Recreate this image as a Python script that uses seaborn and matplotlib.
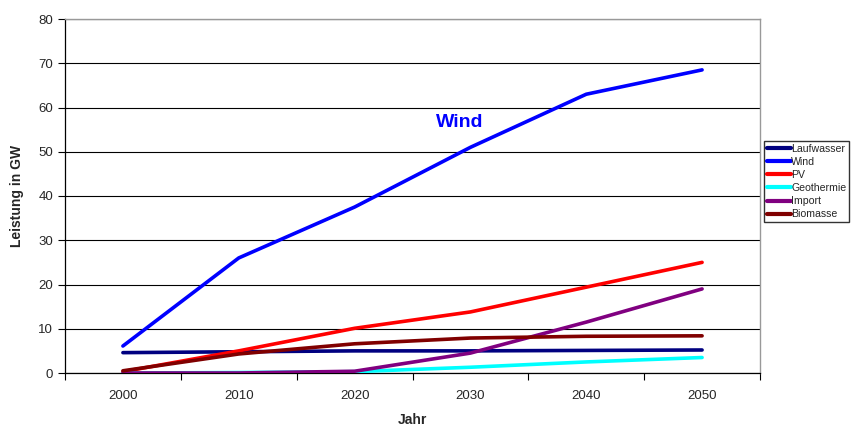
import matplotlib
matplotlib.use("Agg")
import matplotlib.pyplot as plt
import seaborn as sns
import pandas as pd
from matplotlib.lines import Line2D

years = ["2000", "2010", "2020", "2030", "2040", "2050"]
series_names = ["Laufwasser", "Wind", "PV", "Geothermie", "Import", "Biomasse"]
laufwasser = [4.6, 4.8, 5.0, 5.0, 5.1, 5.2]
wind = [6.1, 26.0, 37.5, 51.0, 63.0, 68.5]
pv = [0.3, 5.0, 10.1, 13.8, 19.4, 25.0]
geothermie = [0.0, 0.1, 0.3, 1.3, 2.5, 3.5]
imports = [0.0, 0.0, 0.4, 4.5, 11.5, 19.0]
biomasse = [0.5, 4.3, 6.6, 7.9, 8.3, 8.4]
colors = ["#000080", "#0000FF", "#FF0000", "#00FFFF", "#800080", "#800000"]

values = [laufwasser, wind, pv, geothermie, imports, biomasse]
rows = []
for name, vals in zip(series_names, values):
    for i, v in enumerate(vals):
        rows.append({"pos": i, "Jahr": years[i], "Leistung": v, "Serie": name})
df = pd.DataFrame(rows)

sns.set_theme(style="white")
plt.rcParams["font.family"] = ["Liberation Sans", "DejaVu Sans"]

fig = plt.figure(figsize=(8.51, 4.26), dpi=100)
ax = fig.add_axes([65 / 851, 53 / 426, 695 / 851, 354 / 426])

sns.lineplot(data=df, x="pos", y="Leistung", hue="Serie", hue_order=series_names,
             palette=dict(zip(series_names, colors)), linewidth=2.6, ax=ax,
             legend=False, zorder=3)

ax.set_xlim(-0.5, 5.5)
ax.set_ylim(0, 80)
ax.set_xticks(range(len(years)))
ax.set_xticklabels(years, fontsize=9.5)
ax.set_xticks([i - 0.5 for i in range(len(years) + 1)], minor=True)
ax.tick_params(axis="x", which="major", length=0, pad=12)
ax.tick_params(axis="x", which="minor", length=5, width=0.8, color="black", direction="out", bottom=True)
ax.set_yticks(range(0, 81, 10))
ax.tick_params(axis="y", which="major", length=5, width=0.8, color="black", direction="out", left=True, labelsize=9.5)
ax.yaxis.grid(True, color="black", linewidth=0.8)
ax.xaxis.grid(False)
ax.set_axisbelow(True)
for s in ["left", "bottom"]:
    ax.spines[s].set_color("black")
    ax.spines[s].set_linewidth(0.9)
for s in ["top", "right"]:
    ax.spines[s].set_color("#999999")
    ax.spines[s].set_linewidth(1.0)

ax.set_xlabel("Jahr", fontsize=10, fontweight="bold", labelpad=8)
ax.set_ylabel("Leistung in GW", fontsize=10, fontweight="bold", labelpad=10)

ax.text(2.91, 56.5, "Wind", color="#0000FF", fontsize=14, fontweight="bold",
        ha="center", va="center")

handles = [Line2D([0], [0], color=c, linewidth=3.0) for c in colors]
fig.legend(handles, series_names, loc="upper left", bbox_to_anchor=(764 / 851, 1 - 141 / 426),
           fontsize=7.6, frameon=True, fancybox=False, edgecolor="black",
           handlelength=2.3, handletextpad=0.05, labelspacing=0.3, borderpad=0.25,
           borderaxespad=0)

fig.savefig("out.png", dpi=100)
